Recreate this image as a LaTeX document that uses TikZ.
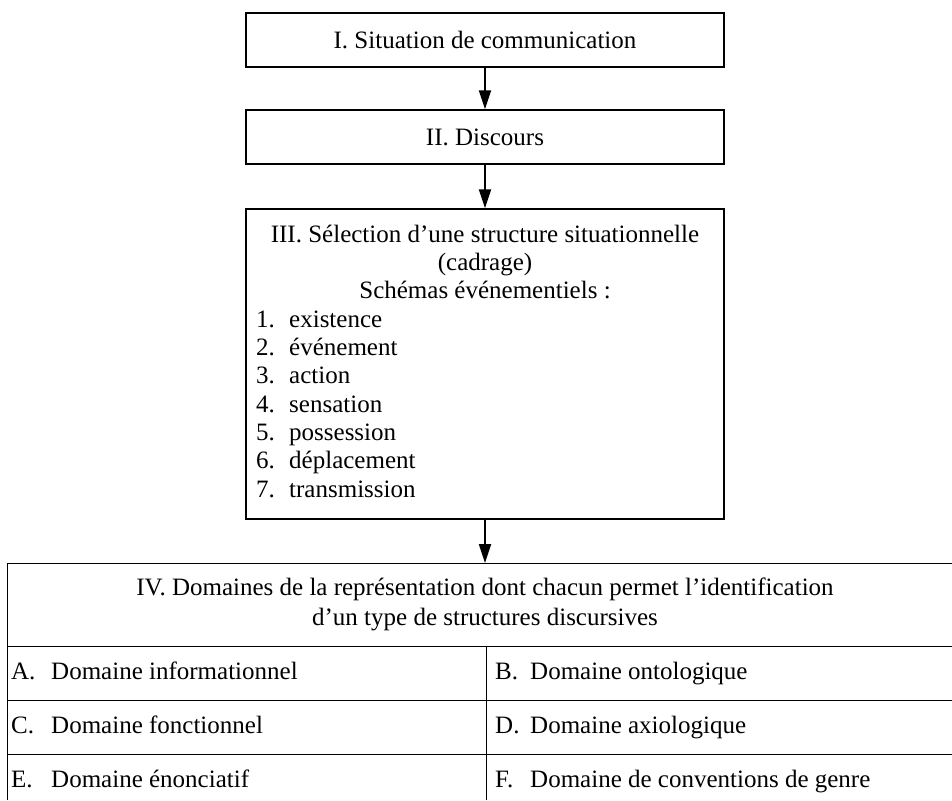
\documentclass[tikz,border=0pt]{standalone}
\usepackage{fontspec}
\setmainfont{Liberation Serif}
\usetikzlibrary{arrows.meta}
\begin{document}
\begin{tikzpicture}[x=1pt,y=-1pt,
  every node/.style={font=\fontsize{25}{30}\selectfont, inner sep=0pt},
  box/.style={draw, line width=1.3pt, minimum width=478pt},
  arr/.style={line width=2pt, -{Triangle[length=19pt,width=12pt]}},
  grid/.style={line width=1pt},
  txt/.style={anchor=base west},
  ctr/.style={anchor=base}]
\useasboundingbox (0,0) rectangle (952,800);
% boxes
\node[box, minimum height=54pt] (b1) at (485,40) {I. Situation de communication};
\node[box, minimum height=54pt] (b2) at (485,137) {II. Discours};
\node[box, minimum height=310pt] (b3) at (485,364) {};
% box III text
\node[ctr] (t3a) at (485,242) {III. Sélection d’une structure situationnelle};
\node[ctr] (t3b) at (485,270) {(cadrage)};
\node[ctr] (t3c) at (485,298) {Schémas événementiels :};
\foreach \n/\w/\y in {1/existence/327, 2/événement/355, 3/action/383, 4/sensation/412, 5/possession/440, 6/déplacement/468, 7/transmission/497}{
  \node[txt] (n\n) at (256,\y) {\n.};
  \node[txt] (w\n) at (289,\y) {\w};
}
% table
\coordinate (ttop) at (485,563);
\draw[grid] (7,800) -- (7,563) -- (952,563);
\draw[grid] (7,646) -- (952,646);
\draw[grid] (7,700) -- (952,700);
\draw[grid] (7,754) -- (952,754);
\draw[grid] (486,646) -- (486,800);
\node[ctr] (h1) at (485,595) {IV. Domaines de la représentation dont chacun permet l’identification};
\node[ctr] (h2) at (485,625) {d’un type de structures discursives};
\foreach \l/\t/\x/\y/\nm in {A/Domaine informationnel/11/679/ca, B/Domaine ontologique/495/679/cb, C/Domaine fonctionnel/11/733/cc, D/Domaine axiologique/495/733/cd, E/Domaine énonciatif/11/787/ce, F/Domaine de conventions de genre/495/787/cf}{
  \node[txt] (\nm l) at (\x,\y) {\l.};
}
\foreach \t/\x/\y/\nm in {Domaine informationnel/51/679/ca, Domaine ontologique/530/679/cb, Domaine fonctionnel/51/733/cc, Domaine axiologique/530/733/cd, Domaine énonciatif/51/787/ce, Domaine de conventions de genre/530/787/cf}{
  \node[txt] (\nm t) at (\x,\y) {\t};
}
% arrows
\draw[arr] (b1.south) -- (b2.north);
\draw[arr] (b2.south) -- (b3.north);
\draw[arr] (b3.south) -- (ttop);
\end{tikzpicture}
\end{document}
